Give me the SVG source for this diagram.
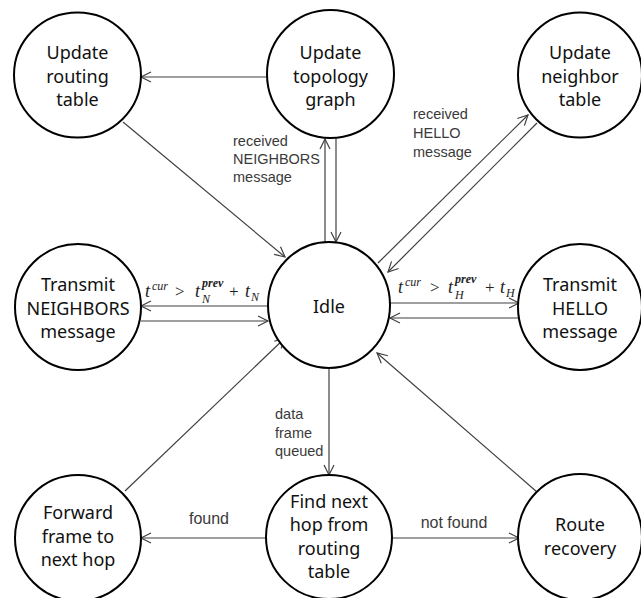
<svg xmlns="http://www.w3.org/2000/svg" width="641" height="598" viewBox="0 0 641 598">
<style>
.node ellipse{fill:#fff;stroke:#000;stroke-width:2}
.node text{font-family:"Noto Sans","DejaVu Sans",sans-serif;font-size:18px;fill:#111;text-anchor:middle}
.lbl{font-family:"Liberation Sans","Noto Sans",sans-serif;font-size:14.5px;fill:#3a3a3a}
.lbl2{font-family:"Liberation Sans","Noto Sans",sans-serif;font-size:16px;fill:#3a3a3a;text-anchor:middle}
.conn line{stroke:#404040;stroke-width:1.2;marker-end:url(#arr)}
.m{font-family:"Liberation Serif",serif;font-style:italic;font-size:18px;fill:#222}
.ms{font-family:"Liberation Serif",serif;font-style:italic;font-size:12px;fill:#222}
.mb{font-family:"Liberation Serif",serif;font-style:italic;font-weight:bold;font-size:12px;fill:#222}
.mo{font-family:"Liberation Serif",serif;font-size:17px;fill:#222}
</style>
<defs>
<marker id="arr" markerUnits="userSpaceOnUse" markerWidth="12" markerHeight="12" refX="10" refY="5" orient="auto" overflow="visible">
<path d="M0,0 L10,5 L0,10" fill="none" stroke="#404040" stroke-width="1.2"/>
</marker>
</defs>
<rect width="641" height="598" fill="#fff"/>
<g id="connectors" class="conn">
<line x1="267" y1="77" x2="141" y2="77"/>
<line x1="123" y1="122" x2="285" y2="257"/>
<line x1="325" y1="243" x2="325" y2="139"/>
<line x1="336" y1="139" x2="336" y2="242"/>
<line x1="378" y1="263" x2="528" y2="115"/>
<line x1="537" y1="123" x2="388" y2="272"/>
<line x1="268" y1="306" x2="141" y2="306"/>
<line x1="141" y1="321" x2="268" y2="321"/>
<line x1="390" y1="303" x2="519" y2="303"/>
<line x1="519" y1="318" x2="390" y2="318"/>
<line x1="329" y1="368" x2="329" y2="475"/>
<line x1="125" y1="491" x2="285" y2="338"/>
<line x1="537" y1="492" x2="377" y2="353"/>
<line x1="266" y1="538" x2="141" y2="538"/>
<line x1="392" y1="538" x2="519" y2="538"/>
</g>
<g id="labels">
<text class="lbl" x="233" y="146">received</text>
<text class="lbl" x="233" y="164">NEIGHBORS</text>
<text class="lbl" x="233" y="182">message</text>
<text class="lbl" x="413" y="119">received</text>
<text class="lbl" x="413" y="138">HELLO</text>
<text class="lbl" x="413" y="157">message</text>
<text class="lbl" x="275" y="419">data</text>
<text class="lbl" x="275" y="438">frame</text>
<text class="lbl" x="275" y="456">queued</text>
<text class="lbl2" x="209" y="524">found</text>
<text class="lbl2" x="454" y="528">not found</text>
<text class="m" x="145" y="297">t</text>
<text class="ms" x="152" y="290">cur</text>
<text class="mo" x="175" y="297">&gt;</text>
<text class="m" x="195" y="297">t</text>
<text class="mb" x="202" y="287">prev</text>
<text class="ms" x="202" y="303">N</text>
<text class="mo" x="229" y="297">+</text>
<text class="m" x="245" y="297">t</text>
<text class="ms" x="251" y="301">N</text>
<text class="m" x="398" y="293">t</text>
<text class="ms" x="405" y="286">cur</text>
<text class="mo" x="430" y="293">&gt;</text>
<text class="m" x="448" y="293">t</text>
<text class="mb" x="455" y="283">prev</text>
<text class="ms" x="455" y="299">H</text>
<text class="mo" x="485" y="293">+</text>
<text class="m" x="500" y="293">t</text>
<text class="ms" x="506" y="297">H</text>
</g>
<g id="n_update_routing" class="node">
<ellipse cx="77.5" cy="75" rx="63.5" ry="62.5"/>
<text x="77.5" y="59">Update</text><text x="77.5" y="82.5">routing</text><text x="77.5" y="106">table</text>
</g>
<g id="n_update_topology" class="node">
<ellipse cx="330.5" cy="74" rx="63.5" ry="64"/>
<text x="330.5" y="59">Update</text><text x="330.5" y="82.5">topology</text><text x="330.5" y="106">graph</text>
</g>
<g id="n_update_neighbor" class="node">
<ellipse cx="580" cy="75" rx="62" ry="62.5"/>
<text x="580" y="59">Update</text><text x="580" y="82.5">neighbor</text><text x="580" y="106">table</text>
</g>
<g id="n_transmit_neighbors" class="node">
<ellipse cx="78" cy="307" rx="63" ry="63"/>
<text x="78" y="291">Transmit</text><text x="78" y="314.5">NEIGHBORS</text><text x="78" y="338">message</text>
</g>
<g id="n_idle" class="node">
<ellipse cx="329" cy="305" rx="61" ry="63"/>
<text x="329" y="313">Idle</text>
</g>
<g id="n_transmit_hello" class="node">
<ellipse cx="580" cy="307" rx="62" ry="63"/>
<text x="580" y="291">Transmit</text><text x="580" y="314.5">HELLO</text><text x="580" y="338">message</text>
</g>
<g id="n_forward" class="node">
<ellipse cx="78" cy="538" rx="63" ry="63"/>
<text x="78" y="519">Forward</text><text x="78" y="542.5">frame to</text><text x="78" y="566">next hop</text>
</g>
<g id="n_find_next_hop" class="node">
<ellipse cx="329" cy="537" rx="63" ry="62"/>
<text x="329" y="508">Find next</text><text x="329" y="531">hop from</text><text x="329" y="554.5">routing</text><text x="329" y="578">table</text>
</g>
<g id="n_route_recovery" class="node">
<ellipse cx="580" cy="537" rx="62" ry="63"/>
<text x="580" y="531">Route</text><text x="580" y="554.5">recovery</text>
</g>
</svg>
